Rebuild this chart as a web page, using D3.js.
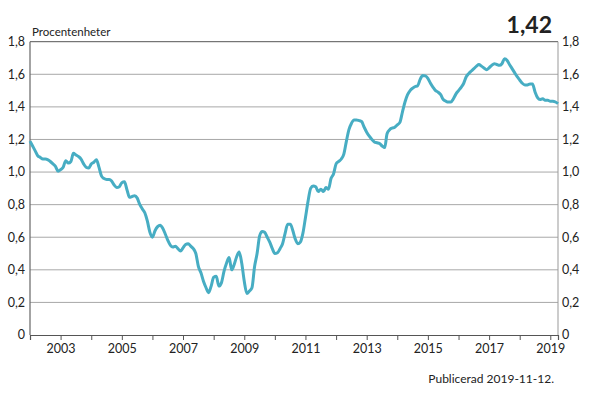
<!DOCTYPE html>
<html>
<head>
<meta charset="utf-8">
<script src="https://cdn.jsdelivr.net/npm/d3@7"></script>
<style>
  body { margin: 0; background: #fff; }
  svg text { font-family: Lato, "Open Sans", sans-serif; fill: #222; }
</style>
</head>
<body>
<div id="figure-holder"></div>
<script>
// monthly values, first month July 2002, last October 2019
const firstMonth = "2002-07"
const values = [
  1.19, 1.16, 1.13, 1.10, 1.09, 1.08, 1.08, 1.075, 1.065, 1.05, 1.035, 1.005,
  1.015, 1.03, 1.07, 1.055, 1.065, 1.115, 1.105, 1.095, 1.08, 1.05, 1.03, 1.025,
  1.05, 1.06, 1.075, 1.03, 0.975, 0.96, 0.955, 0.955, 0.945, 0.92, 0.905, 0.91,
  0.935, 0.94, 0.89, 0.845, 0.85, 0.855, 0.84, 0.80, 0.775, 0.75, 0.70, 0.63,
  0.60, 0.64, 0.665, 0.674, 0.655, 0.62, 0.58, 0.55, 0.54, 0.545, 0.53, 0.515,
  0.535, 0.555, 0.56, 0.545, 0.53, 0.50, 0.42, 0.38, 0.33, 0.29, 0.26, 0.30,
  0.355, 0.36, 0.30, 0.32, 0.39, 0.44, 0.475, 0.40, 0.43, 0.48, 0.51, 0.44,
  0.33, 0.255, 0.27, 0.29, 0.42, 0.50, 0.61, 0.635, 0.63, 0.60, 0.57, 0.53,
  0.50, 0.505, 0.53, 0.56, 0.625, 0.68, 0.68, 0.64, 0.59, 0.56, 0.57, 0.625,
  0.72, 0.82, 0.90, 0.915, 0.91, 0.88, 0.895, 0.88, 0.905, 0.895, 0.96, 0.99,
  1.05, 1.065, 1.08, 1.11, 1.19, 1.26, 1.30, 1.32, 1.32, 1.316, 1.31, 1.275,
  1.245, 1.22, 1.20, 1.185, 1.18, 1.175, 1.16, 1.15, 1.235, 1.26, 1.27, 1.275,
  1.29, 1.305, 1.37, 1.43, 1.475, 1.50, 1.515, 1.525, 1.53, 1.57, 1.592, 1.59,
  1.575, 1.545, 1.52, 1.50, 1.49, 1.475, 1.445, 1.435, 1.43, 1.43, 1.45, 1.48,
  1.50, 1.52, 1.545, 1.585, 1.605, 1.62, 1.635, 1.65, 1.66, 1.65, 1.638, 1.628,
  1.64, 1.655, 1.665, 1.66, 1.655, 1.665, 1.695, 1.685, 1.66, 1.635, 1.61, 1.585,
  1.565, 1.545, 1.535, 1.535, 1.54, 1.54, 1.49, 1.455, 1.445, 1.45, 1.44, 1.44,
  1.435, 1.435, 1.43, 1.42
]
const yTicks = [0, 0.2, 0.4, 0.6, 0.8, 1.0, 1.2, 1.4, 1.6, 1.8]
const yearTicks = d3.range(2002, 2020)
const yearLabels = [2003, 2005, 2007, 2009, 2011, 2013, 2015, 2017, 2019]
const unitLabel = "Procentenheter"
const lastLabel = "1,42"
const footnote = "Publicerad 2019-11-12."

const parseMonth = d3.timeParse("%Y-%m")
const start = parseMonth(firstMonth)
const data = values.map((v, i) => ({ date: d3.timeMonth.offset(start, i), value: v }))

const W = 593, H = 397
const plot = { left: 30, right: 558, top: 41.7, bottom: 335 }
const fmt = v => v === 0 ? "0" : d3.format(".1f")(v).replace(".", ",")

const svg = d3.select('#figure-holder').append('svg')
    .attr('width', W)
    .attr('height', H)

const x = d3.scaleTime()
    .domain([start, data[data.length - 1].date])
    .range([plot.left, plot.right])

const y = d3.scaleLinear()
    .domain([0, 1.8])
    .range([plot.bottom, plot.top])

// grid lines
svg.append('g')
    .selectAll('line')
    .data(yTicks.filter(d => d > 0 && d < 1.8))
    .join('line')
    .attr('x1', plot.left).attr('x2', plot.right)
    .attr('y1', d => y(d)).attr('y2', d => y(d))
    .attr('stroke', '#a8a8a8')
    .attr('stroke-width', 1)

// frame
svg.append('line')
    .attr('x1', plot.left).attr('x2', plot.right).attr('y1', y(1.8)).attr('y2', y(1.8))
    .attr('stroke', '#555').attr('stroke-width', 1)
svg.append('line')
    .attr('x1', plot.left).attr('x2', plot.left).attr('y1', y(1.8)).attr('y2', y(0))
    .attr('stroke', '#666').attr('stroke-width', 1.2)
svg.append('line')
    .attr('x1', plot.right).attr('x2', plot.right).attr('y1', y(1.8)).attr('y2', y(0))
    .attr('stroke', '#999').attr('stroke-width', 1)

// y-axis labels on both sides
svg.append('g')
    .selectAll('text')
    .data(yTicks)
    .join('text')
    .attr('x', plot.left - 5)
    .attr('y', d => y(d))
    .attr('dy', '0.35em')
    .attr('text-anchor', 'end')
    .style('font-size', '12.5px')
    .text(fmt)

svg.append('g')
    .selectAll('text')
    .data(yTicks)
    .join('text')
    .attr('x', plot.right + 4)
    .attr('y', d => y(d))
    .attr('dy', '0.35em')
    .attr('text-anchor', 'start')
    .style('font-size', '12.5px')
    .text(fmt)

// x-axis, ticks at mid-year
const xAxis = svg.append('g')
    .attr('id', 'x-axis')
    .attr('transform', `translate(0, ${plot.bottom})`)
    .call(d3.axisBottom(x)
        .tickValues(yearTicks.map(yr => new Date(yr, 6, 1)))
        .tickSize(5)
        .tickFormat(d => yearLabels.includes(d.getFullYear()) ? d.getFullYear() : ""))

xAxis.select('.domain').attr('stroke', '#555').attr('stroke-width', 1.2)
xAxis.selectAll('.tick line').attr('stroke', '#555')
xAxis.selectAll('text')
    .attr('y', 9)
    .style('font-size', '12.5px')
    .style('font-family', 'Lato, "Open Sans", sans-serif')
    .style('fill', '#222')

// the series
const line = d3.line()
    .x(d => x(d.date))
    .y(d => y(d.value))
    .curve(d3.curveMonotoneX)

svg.append('path')
    .datum(data)
    .attr('d', line)
    .attr('fill', 'none')
    .attr('stroke', '#47adc3')
    .attr('stroke-width', 3)
    .attr('stroke-linejoin', 'round')

// texts
svg.append('text')
    .attr('x', plot.left + 2)
    .attr('y', 36)
    .style('font-size', '11.5px')
    .text(unitLabel)

svg.append('text')
    .attr('x', 552)
    .attr('y', 32.5)
    .attr('text-anchor', 'end')
    .style('font-size', '23px')
    .style('font-weight', 'bold')
    .text(lastLabel)

svg.append('text')
    .attr('x', 554)
    .attr('y', 383)
    .attr('text-anchor', 'end')
    .style('font-size', '12px')
    .text(footnote)
</script>
</body>
</html>
